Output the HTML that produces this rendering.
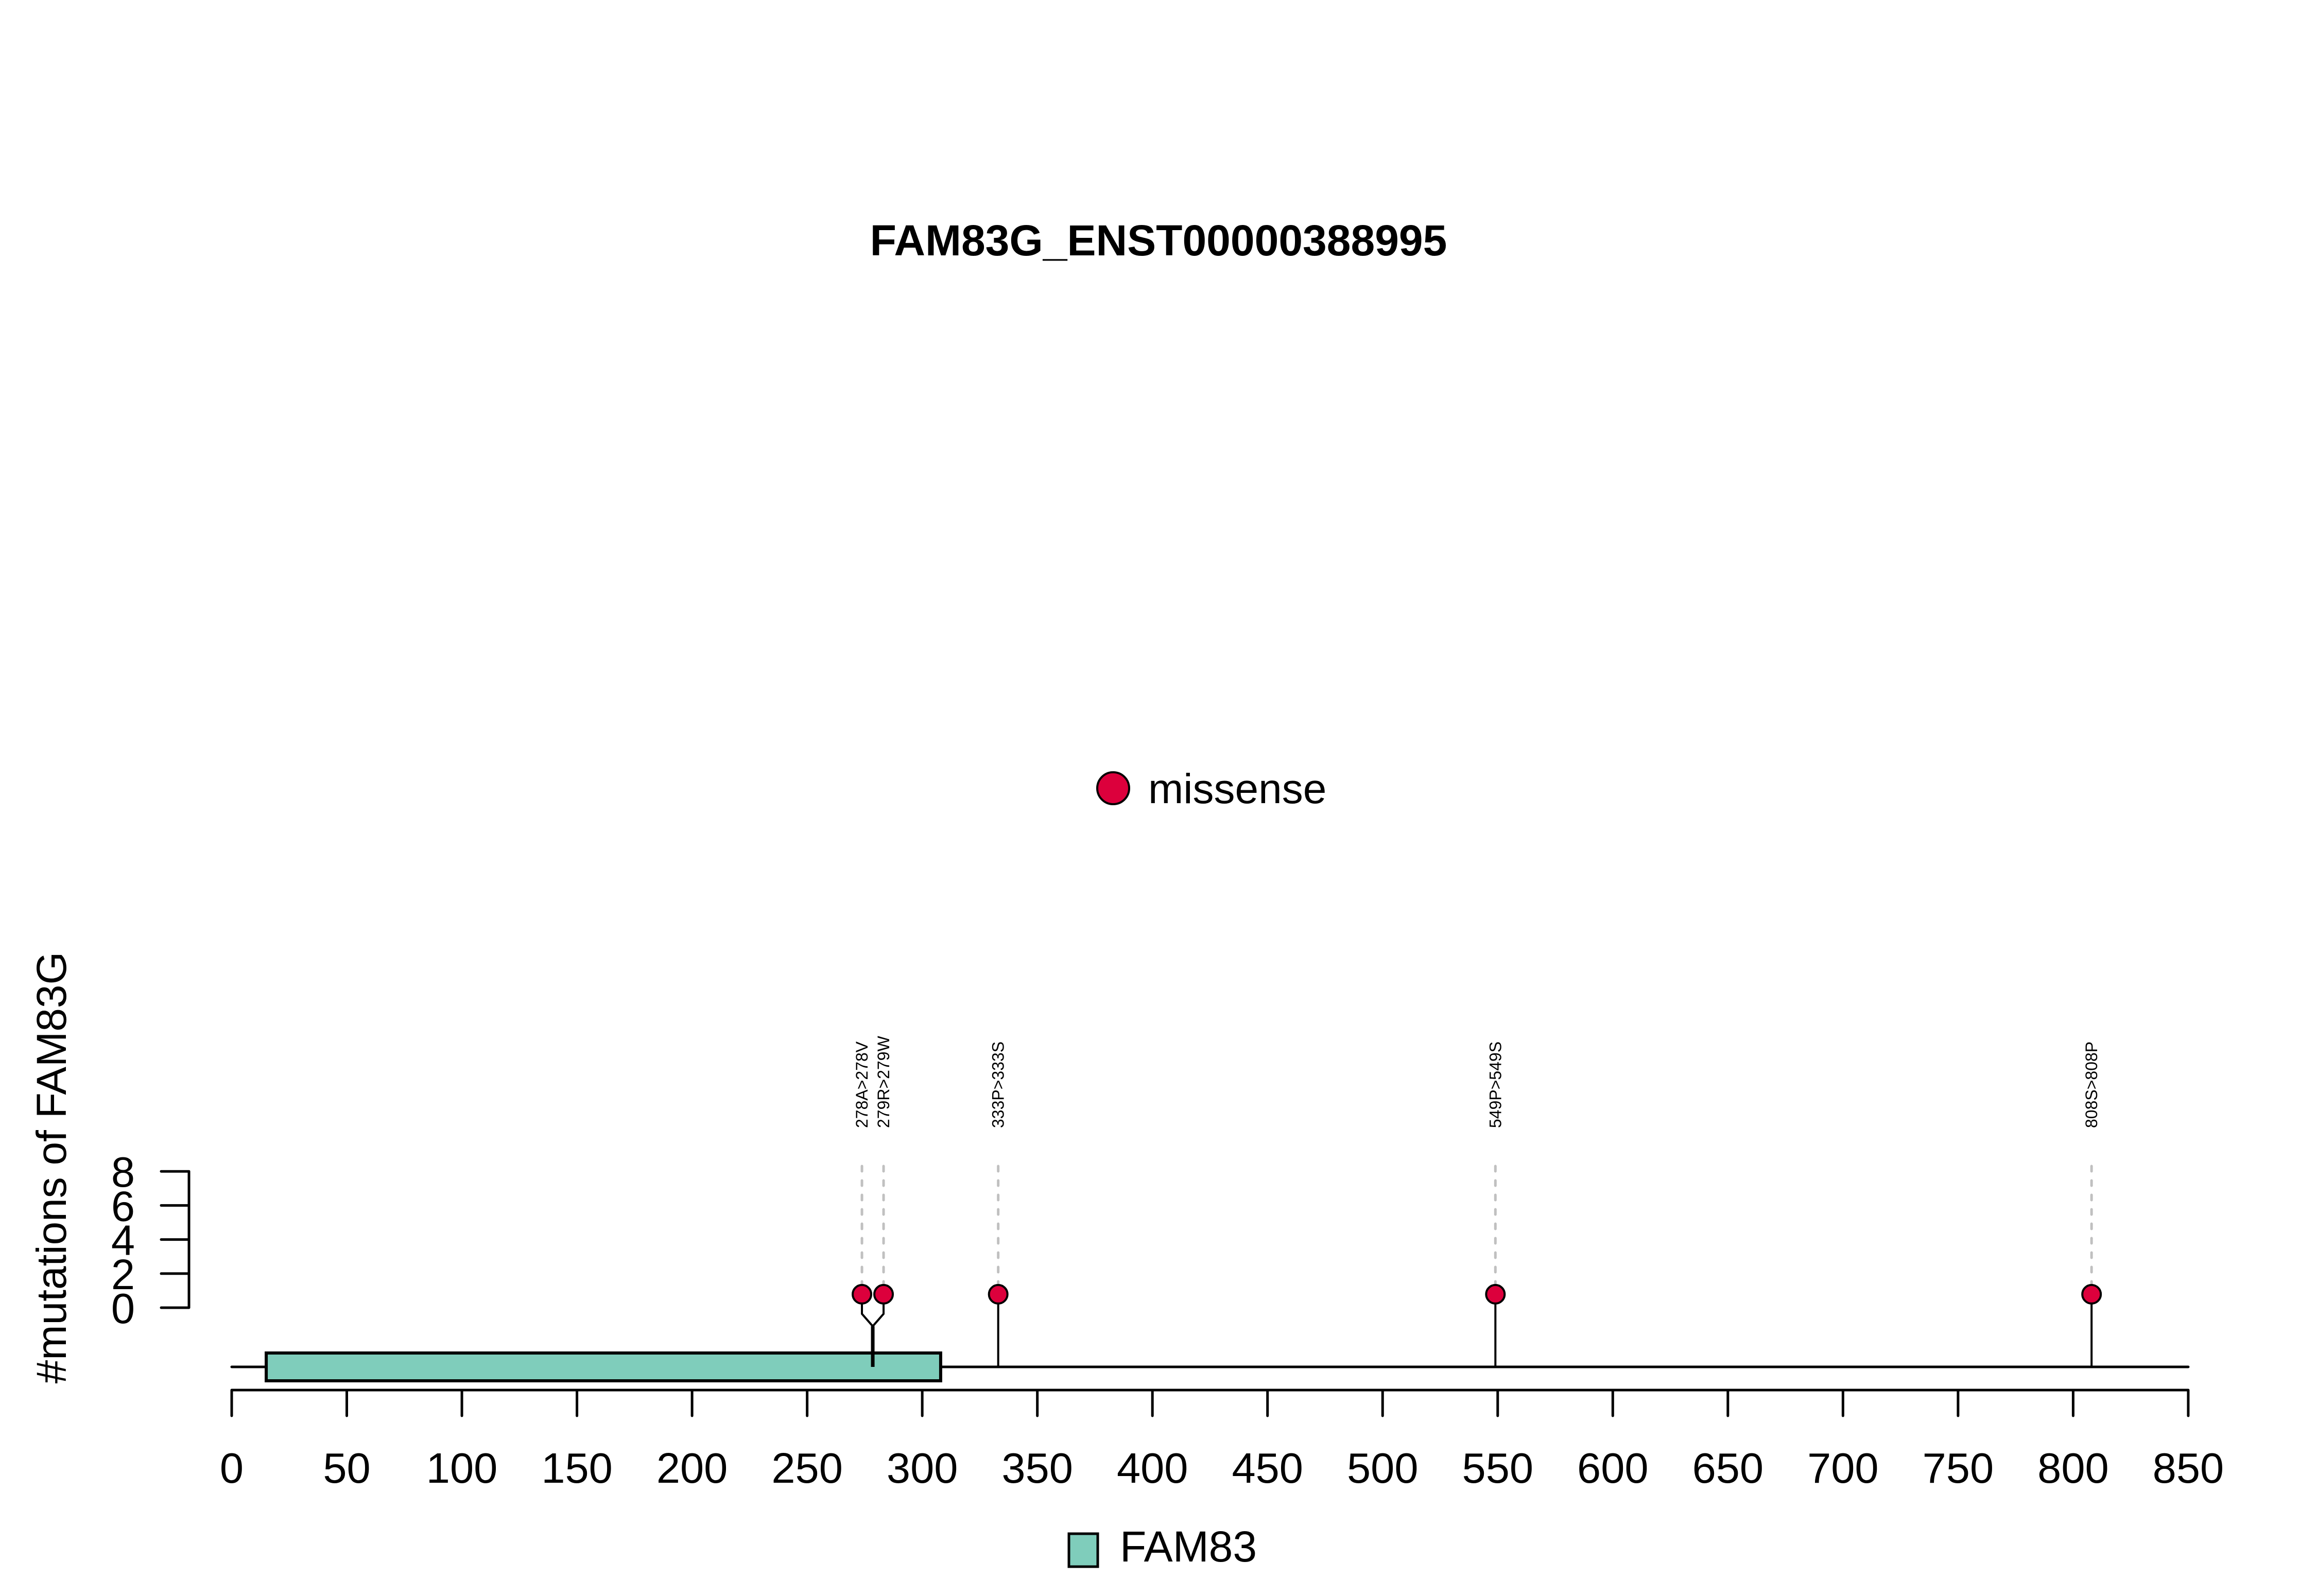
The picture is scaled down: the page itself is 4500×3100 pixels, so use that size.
<!DOCTYPE html>
<html><head><meta charset="utf-8"><style>
html,body{margin:0;padding:0;background:#fff;}
svg{display:block;font-family:"Liberation Sans",Arial,sans-serif;}
</style></head><body>
<svg id="chart" width="4500" height="3100" viewBox="0 0 4500 3100">
<rect x="0" y="0" width="4500" height="3100" fill="#fff"/>
<text x="2250" y="496" font-size="84" font-weight="bold" text-anchor="middle">FAM83G_ENST00000388995</text>
<g>
<circle cx="2162" cy="1531" r="31" fill="#dc003c" stroke="#000" stroke-width="4"/>
<text x="2230" y="1560" font-size="82">missense</text>
</g>
<text transform="translate(128,2268) rotate(-90)" font-size="82" text-anchor="middle">#mutations of FAM83G</text>
<g id="plot"></g>
<g>
<rect x="2076" y="2979" width="56" height="64" fill="#7fcdbb" stroke="#000" stroke-width="5"/>
<text x="2175" y="3033" font-size="84">FAM83</text>
</g>
</svg>
<script>
const mutPositions = [278, 279, 333, 549, 808];
const mutCounts = [1, 1, 1, 1, 1];
const mutLabels = ["278A>278V", "279R>279W", "333P>333S", "549P>549S", "808S>808P"];
const domainNames = ["FAM83"];
const domainStarts = [15];
const domainEnds = [308];
const proteinLength = 850;
const xTicks = [0,50,100,150,200,250,300,350,400,450,500,550,600,650,700,750,800,850];
const yTicks = [0,2,4,6,8];

const NS = "http://www.w3.org/2000/svg";
const g = document.getElementById("plot");
const X0 = 450, XPU = 4.4705;
function xs(v){ return X0 + v * XPU; }
function ys(v){ return 2540 - v * 33.1; }
function mk(tag, attrs){ const e = document.createElementNS(NS, tag); for (const k in attrs) e.setAttribute(k, attrs[k]); g.appendChild(e); return e; }
const DOT_OFF = 7;

const BB = 2655;
let bb = mk("line", {x1: xs(0), y1: BB, x2: xs(proteinLength), y2: BB, stroke: "#000", "stroke-width": 5, "stroke-linecap": "round"});


domainNames.forEach((n, i) => {
  const r = mk("rect", {x: xs(domainStarts[i]), y: 2628, width: xs(domainEnds[i]) - xs(domainStarts[i]), height: 54, fill: "#7fcdbb", stroke: "#000", "stroke-width": 6});
  
  
});
let xa = mk("line", {x1: xs(xTicks[0]), y1: 2700, x2: xs(xTicks[xTicks.length-1]), y2: 2700, stroke: "#000", "stroke-width": 5});


xTicks.forEach(t => {
  const l = mk("line", {x1: xs(t), y1: 2700, x2: xs(t), y2: 2750, stroke: "#000", "stroke-width": 5, "stroke-linecap": "round"});
  
  
  const tx = mk("text", {x: xs(t), y: 2880, "font-size": 83, "text-anchor": "middle"});
  tx.textContent = t;
  
  
});
let ya = mk("line", {x1: 367, y1: ys(yTicks[0]), x2: 367, y2: ys(yTicks[yTicks.length-1]), stroke: "#000", "stroke-width": 5});


yTicks.forEach(t => {
  const l = mk("line", {x1: 313, y1: ys(t), x2: 367, y2: ys(t), stroke: "#000", "stroke-width": 5, "stroke-linecap": "round"});
  
  
  const tx = mk("text", {x: 262, y: ys(t) + 30, "font-size": 83, "text-anchor": "end"});
  tx.textContent = t;
  
  
});
const groups = [];
mutPositions.forEach((p, i) => {
  const last = groups[groups.length-1];
  if (last && p - mutPositions[last[last.length-1]] < 5) last.push(i); else groups.push([i]);
});
groups.forEach(grp => {
  const mean = grp.reduce((s, i) => s + mutPositions[i], 0) / grp.length;
  const cx = xs(mean);
  const multi = grp.length > 1;
  grp.forEach((i, k) => {
    const dx = multi ? cx + (k - (grp.length-1)/2) * 42 : xs(mutPositions[i]);
    const dy = ys(mutCounts[i]) + DOT_OFF;
    const d = mk("line", {x1: dx, y1: 2265, x2: dx, y2: dy, stroke: "#c0c0c0", "stroke-width": 5, "stroke-dasharray": "10 18", "stroke-linecap": "round"});
    
    
    if (multi) {
      const pl = mk("polyline", {points: `${dx},${dy} ${dx},2552 ${cx},2576`, fill: "none", stroke: "#000", "stroke-width": 4});
      
      
    } else {
      const st = mk("line", {x1: dx, y1: dy, x2: dx, y2: BB, stroke: "#000", "stroke-width": 4});
      
      
    }
    const lb = mk("text", {transform: `translate(${dx + 11},2191) rotate(-90)`, "font-size": 32});
    lb.textContent = mutLabels[i];
    
    
  });
  if (multi) {
    const st = mk("line", {x1: cx, y1: 2576, x2: cx, y2: BB, stroke: "#000", "stroke-width": 7});
    
    
  }
  grp.forEach((i, k) => {
    const dx = multi ? cx + (k - (grp.length-1)/2) * 42 : xs(mutPositions[i]);
    const c = mk("circle", {cx: dx, cy: ys(mutCounts[i]) + DOT_OFF, r: 18, fill: "#dc003c", stroke: "#000", "stroke-width": 4});
    
    
  });
});
</script>
</body></html>
